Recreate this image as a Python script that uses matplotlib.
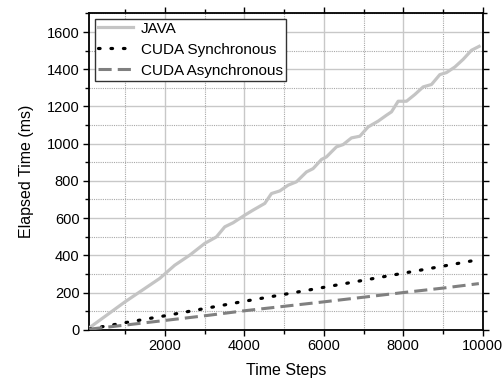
import numpy as np
import matplotlib
matplotlib.use("Agg")
import matplotlib.pyplot as plt
from matplotlib.ticker import MultipleLocator

plt.rcParams['font.family'] = ['Liberation Sans', 'DejaVu Sans']

# JAVA timing
java_steps = [100, 1000, 1874, 2252, 2629, 3006, 3300, 3509, 3719, 4013, 4222,
              4516, 4684, 4893, 5103, 5312, 5564, 5731, 5941, 6067, 6319, 6486,
              6696, 6906, 7115, 7367, 7577, 7703, 7870, 8080, 8289, 8499, 8709,
              8918, 9086, 9296, 9505, 9715, 9907]
java_ms = [10, 150, 276, 347, 401, 464, 499, 553, 575, 616, 643,
           679, 732, 746, 777, 795, 848, 866, 915, 929, 983, 995,
           1031, 1040, 1090, 1121, 1153, 1171, 1228, 1228, 1264, 1305, 1318,
           1371, 1382, 1412, 1453, 1502, 1523]

# CUDA timings
cuda_steps = [100, 1000, 2000, 3000, 4000, 5000, 6000, 7000, 8000, 9000, 9900]
cuda_sync_ms = [4, 38, 75, 114, 153, 190, 228, 266, 304, 342, 377]
cuda_async_ms = [3, 25, 50, 75, 102, 126, 150, 175, 200, 224, 248]

fig = plt.figure(figsize=(5.04, 3.83), dpi=100)
ax = fig.add_axes([0.177, 0.139, 0.781, 0.826])

ax.plot(java_steps, java_ms, color='#c4c4c4', lw=2.3, label='JAVA', zorder=3)
ax.plot(cuda_steps, cuda_sync_ms, color='black', lw=2.3, linestyle=(0, (0.5, 3.4)),
        dash_capstyle='round', label='CUDA Synchronous', zorder=3)
ax.plot(cuda_steps, cuda_async_ms, color='#808080', lw=2.2, linestyle=(0, (4.3, 2.0)),
        label='CUDA Asynchronous', zorder=3)

ax.set_xlim(100, 10000)
ax.set_ylim(0, 1700)
ax.xaxis.set_major_locator(MultipleLocator(2000))
ax.xaxis.set_minor_locator(MultipleLocator(1000))
ax.yaxis.set_major_locator(MultipleLocator(200))
ax.yaxis.set_minor_locator(MultipleLocator(100))

ax.grid(which='major', color='#c8c8c8', lw=1.0, linestyle='-')
ax.grid(which='minor', color='#a8a8a8', lw=0.8, linestyle=(0, (1, 1)))
ax.set_axisbelow(True)

ax.tick_params(which='both', direction='out', top=True, right=True,
               labelsize=10.5, pad=2.5, width=1.0, color='black')
ax.tick_params(which='major', length=4.5)
ax.tick_params(which='minor', length=3)
for s in ax.spines.values():
    s.set_linewidth(1.3)

ax.set_xlabel('Time Steps', fontsize=11.5, labelpad=7)
ax.set_ylabel('Elapsed Time (ms)', fontsize=11.5, labelpad=9)

leg = ax.legend(loc='upper left', fontsize=11, handlelength=2.3, labelspacing=0.45,
                borderaxespad=0.35, fancybox=False, framealpha=1, borderpad=0.2,
                handletextpad=0.55)
leg.get_frame().set_edgecolor('#333333')
leg.get_frame().set_linewidth(1.0)

fig.savefig('out.png', dpi=100)
